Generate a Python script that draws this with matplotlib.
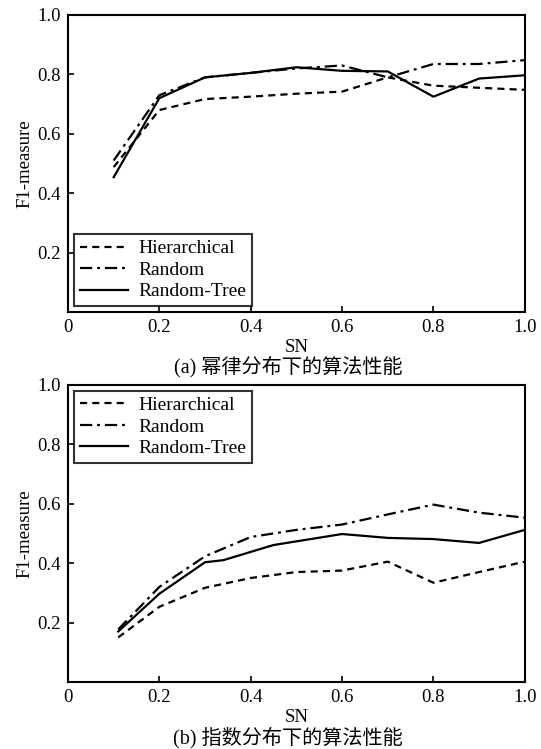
import matplotlib
matplotlib.use("Agg")
import matplotlib.pyplot as plt

plt.rcParams['font.family'] = ['Liberation Serif', 'Noto Sans CJK SC']

# (a) power-law distribution
sn_a = [0.1, 0.2, 0.3, 0.4, 0.5, 0.6, 0.7, 0.8, 0.9, 1.0]
hier_a = [0.488, 0.68, 0.717, 0.725, 0.735, 0.742, 0.79, 0.762, 0.755, 0.748]
rand_a = [0.51, 0.73, 0.79, 0.805, 0.82, 0.83, 0.79, 0.835, 0.835, 0.848]
tree_a = [0.454, 0.72, 0.79, 0.805, 0.824, 0.812, 0.81, 0.725, 0.786, 0.797]

# (b) exponential distribution
sn_b = [0.11, 0.2, 0.3, 0.4, 0.5, 0.6, 0.7, 0.8, 0.9, 1.0]
hier_b = [0.15, 0.253, 0.317, 0.35, 0.37, 0.375, 0.405, 0.334, 0.37, 0.405]
rand_b = [0.177, 0.32, 0.423, 0.488, 0.512, 0.53, 0.564, 0.597, 0.57, 0.553]
sn_tree_b = [0.11, 0.2, 0.3, 0.34, 0.45, 0.6, 0.7, 0.8, 0.9, 1.0]
tree_b = [0.17, 0.297, 0.403, 0.41, 0.461, 0.498, 0.485, 0.481, 0.468, 0.512]

xticks = [0, 0.2, 0.4, 0.6, 0.8, 1.0]
xticklabels = ['0', '0.2', '0.4', '0.6', '0.8', '1.0']
yticks = [0.2, 0.4, 0.6, 0.8, 1.0]
captions = ['(a) 幂律分布下的算法性能', '(b) 指数分布下的算法性能']

fig = plt.figure(figsize=(5.41, 7.49), dpi=100)
ax_a = fig.add_axes([0.1257, 0.5834, 0.8443, 0.3966])
ax_b = fig.add_axes([0.1257, 0.0895, 0.8443, 0.3966])


def draw_panel(ax, x_h, h, x_r, r, x_t, t, legend_loc):
    ax.plot(x_h, h, color='black', linestyle=(0, (3.2, 2.3)), linewidth=1.6, label='Hierarchical')
    ax.plot(x_r, r, color='black', linestyle=(0, (5.5, 2.2, 1.3, 2.2)), linewidth=1.6, label='Random')
    ax.plot(x_t, t, color='black', linestyle='-', linewidth=1.6, label='Random-Tree')
    ax.set_xlim(0, 1.0)
    ax.set_ylim(0, 1.0)
    ax.set_xticks(xticks)
    ax.set_xticklabels(xticklabels)
    ax.set_yticks(yticks)
    ax.set_yticklabels([f'{v:.1f}' for v in yticks])
    ax.tick_params(direction='in', length=4, width=1.2, labelsize=13.5, pad=5)
    for s in ax.spines.values():
        s.set_linewidth(1.5)
    ax.set_xlabel('SN', fontsize=13.5, labelpad=2)
    ax.set_ylabel('F1-measure', fontsize=13.5, labelpad=3)
    leg = ax.legend(loc=legend_loc, fontsize=14, frameon=True, fancybox=False,
                    edgecolor='black', handlelength=2.5, handletextpad=0.5,
                    labelspacing=0.2, borderpad=0.3, borderaxespad=0.3)
    leg.get_frame().set_linewidth(1.5)


draw_panel(ax_a, sn_a, hier_a, sn_a, rand_a, sn_a, tree_a, 'lower left')
draw_panel(ax_b, sn_b, hier_b, sn_b, rand_b, sn_tree_b, tree_b, 'upper left')

fig.text(0.532, 1 - 367 / 749, captions[0], ha='center', va='center', fontsize=14.5)
fig.text(0.532, 1 - 738 / 749, captions[1], ha='center', va='center', fontsize=14.5)

fig.savefig('out.png', dpi=100)
